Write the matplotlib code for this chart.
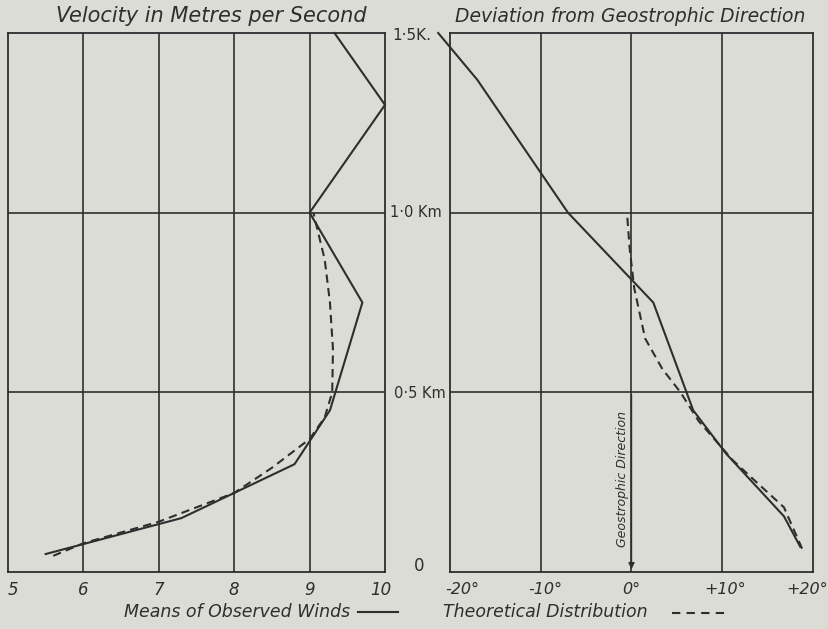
import matplotlib
matplotlib.use("Agg")
import matplotlib.pyplot as plt
from matplotlib.lines import Line2D

# ---- data ----
vel_obs_speed = [5.5, 7.3, 8.8, 9.27, 9.7, 9.0, 10.0, 9.33]
vel_obs_height = [0.05, 0.15, 0.30, 0.45, 0.75, 1.0, 1.30, 1.50]
vel_theo_speed = [5.6, 6.0, 7.0, 7.5, 8.0, 8.5, 9.0, 9.2, 9.3, 9.31, 9.27, 9.2, 9.05]
vel_theo_height = [0.045, 0.08, 0.14, 0.18, 0.22, 0.29, 0.37, 0.43, 0.50, 0.62, 0.75, 0.87, 1.0]

dev_obs_angle = [18.6, 16.8, 10.4, 6.8, 2.4, -7.0, -17.0, -21.3]
dev_obs_height = [0.07, 0.155, 0.33, 0.45, 0.75, 1.0, 1.37, 1.50]
dev_theo_angle = [18.8, 16.8, 14.2, 11.2, 7.4, 5.4, 3.4, 1.5, 0.3, -0.2, -0.5]
dev_theo_height = [0.065, 0.18, 0.24, 0.31, 0.42, 0.50, 0.565, 0.65, 0.79, 0.90, 1.0]

vel_ticks = [5, 6, 7, 8, 9, 10]
vel_ticklabels = ["5", "6", "7", "8", "9", "10"]
dev_ticks = [-20, -10, 0, 10, 20]
dev_ticklabels = ["-20°", "-10°", "0°", "+10°", "+20°"]
height_labels = ["1·5K.", "1·0 Km", "0·5 Km", "0"]
height_values = [1.5, 1.0, 0.5, 0.0]

# ---- style ----
W, H = 829, 629
BG = "#dcdcd7"
INK = "#2e2e2e"
FONT = "DejaVu Sans"

fig = plt.figure(figsize=(W / 100, H / 100), dpi=100, facecolor=BG)

def px_axes(x0, y0, x1, y1):
    return fig.add_axes([x0 / W, 1 - y1 / H, (x1 - x0) / W, (y1 - y0) / H])

ax1 = px_axes(8, 33, 385, 572)
ax2 = px_axes(450, 33, 813, 572)

for ax in (ax1, ax2):
    ax.set_facecolor(BG)
    ax.set_ylim(0, 1.5)
    for s in ax.spines.values():
        s.set_color(INK)
        s.set_linewidth(1.3)
    ax.set_yticks([])
    ax.set_xticks([])
    for h in (0.5, 1.0):
        ax.axhline(h, color=INK, lw=1.2)

ax1.set_xlim(5, 10)
for v in vel_ticks[1:-1]:
    ax1.axvline(v, color=INK, lw=1.2)

ax2.set_xlim(-20, 20)
for v in dev_ticks[1:-1]:
    ax2.axvline(v, color=INK, lw=1.2)

# tick labels (placed via axes data coords in x, pixels below axis)
label_y = 1 - 590 / H
vel_offsets = [0.07, 0, 0, 0, 0, -0.05]
for v, lab, off in zip(vel_ticks, vel_ticklabels, vel_offsets):
    x_fig = fig.transFigure.inverted().transform(ax1.transData.transform((v + off, 0)))[0]
    fig.text(x_fig, label_y, lab, ha="center", va="center", fontsize=12,
             fontstyle="italic", color=INK, family=FONT)
dev_offsets = [1.3, 0.5, 0, 0.3, -0.6]
for v, lab, off in zip(dev_ticks, dev_ticklabels, dev_offsets):
    x_fig = fig.transFigure.inverted().transform(ax2.transData.transform((v + off, 0)))[0]
    fig.text(x_fig, label_y, lab, ha="center", va="center", fontsize=11.5,
             fontstyle="italic", color=INK, family=FONT)

# curves
ax1.plot(vel_obs_speed, vel_obs_height, color=INK, lw=1.5, clip_on=False)
ax1.plot(vel_theo_speed, vel_theo_height, color=INK, lw=1.5, ls=(0, (4, 2.5)), clip_on=False)
ax2.plot(dev_obs_angle, dev_obs_height, color=INK, lw=1.5, clip_on=False)
ax2.plot(dev_theo_angle, dev_theo_height, color=INK, lw=1.5, ls=(0, (4, 2.5)), clip_on=False)

# geostrophic direction arrow
ax2.annotate("", xy=(0, 0.0), xytext=(0, 0.5),
             arrowprops=dict(arrowstyle="-|>", color=INK, lw=1.0, mutation_scale=9))
ax2.text(-1.0, 0.26, "Geostrophic Direction", rotation=90, ha="center", va="center",
         fontsize=9, fontstyle="italic", color=INK, family=FONT)

# titles
fig.text(211 / W, 1 - 16 / H, "Velocity in Metres per Second", ha="center", va="center",
         fontsize=15, fontstyle="italic", color=INK, family=FONT)
fig.text(630 / W, 1 - 16 / H, "Deviation from Geostrophic Direction", ha="center", va="center",
         fontsize=13.5, fontstyle="italic", color=INK, family=FONT)

# height labels between panels
hl_pos = [(392, 36), (390, 213), (394, 393), (414, 566)]
hl_size = [11, 10.5, 10.5, 12]
for (x, y), lab, fs in zip(hl_pos, height_labels, hl_size):
    fig.text(x / W, 1 - y / H, lab, ha="left", va="center", fontsize=fs, color=INK, family=FONT)

# legend
fig.text(350 / W, 1 - 612 / H, "Means of Observed Winds", ha="right", va="center",
         fontsize=12.5, fontstyle="italic", color=INK, family=FONT)
fig.add_artist(Line2D([358 / W, 398 / W], [1 - 612 / H, 1 - 612 / H],
                      color=INK, lw=1.5, transform=fig.transFigure))
fig.text(443 / W, 1 - 612 / H, "Theoretical Distribution", ha="left", va="center",
         fontsize=12.5, fontstyle="italic", color=INK, family=FONT)
fig.add_artist(Line2D([672 / W, 730 / W], [1 - 613 / H, 1 - 613 / H],
                      color=INK, lw=1.5, ls=(0, (4, 3)), transform=fig.transFigure))

fig.savefig("out.png", dpi=100, facecolor=BG)
